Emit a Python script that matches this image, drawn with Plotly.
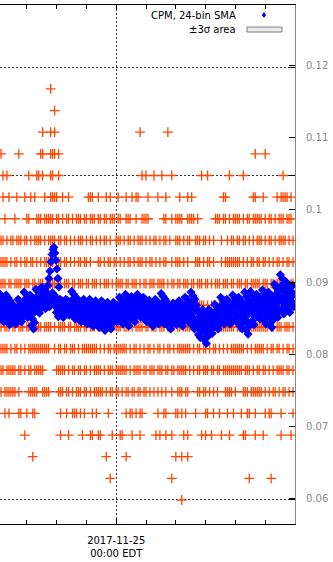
import pandas as pd
import plotly.graph_objects as go

# Time window shown (local time, EDT)
T_START = pd.Timestamp("2017-11-24 20:06")
T_END = pd.Timestamp("2017-11-25 06:00")
MIDNIGHT = pd.Timestamp("2017-11-25 00:00")

# Quantised dose-rate levels of the raw readings (top to bottom)
levels = [0.117, 0.114, 0.111, 0.108, 0.105, 0.102, 0.099, 0.096, 0.093, 0.090,
          0.087, 0.084, 0.081, 0.078, 0.075, 0.072, 0.069, 0.066, 0.063, 0.060]

# Occupancy of each level in 4-minute bins ('#' = reading at that level),
# written in groups of ten bins
D = ".........."
row_masks = [
    " ".join([D, D, ".....#....", D, D, D, D, D, D, D, D, D, D, D, D]),
    " ".join([D, D, ".......#..", D, D, D, D, D, D, D, D, D, D, D, D]),
    " ".join([D, D, ".#...#.#..", D, D, D, D, "#.........", "....#.....", D, D, D, D, D, D]),
    " ".join(["#........#", D, "##...###.#", D, D, D, D, D, D, D, D, D, "........#.", "...#......", D]),
    " ".join([".#.#......", "....#...##", ".#...##..#", D, D, D, D, ".#.#...#..", ".#....#...", D,
              ".#..#.....", ".....#....", "..#.......", D, "..#......."]),
    " ".join([".#..#...#.", "..#..#.#..", "..#..####.", ".#..#.....", "....###..#", "...#.#...#",
              "...#..#.##", "....#....#", "...#......", "#...#.#...", D, "..##......",
              ".......##.", "..#......#", ".####.#..."]),
    " ".join(["..#....#..", "...##...##", "#.#####.##", ".#.##.#.##", "#.##.###.#", "#.##.###.#",
              "#..###..#.", ".####.....", "..##..#.##", "##..####.#", "........##", "#.##.#.###",
              "#.#.##.###", "##.#.##.#.", "###.###..."]),
    " ".join(["##.#.##.##", "#.##.#.###", "#.#.####.#", "#.##.#.#.#", "##.#.##.#.", "#.##.#..##",
              "#.#.##.#.#", "##.#.#.##.", "#.##.#..##", "#.#.##..##", "#.##.#.#..", ".#..#.##.#",
              "#.##.#.#.#", "##.#.##.#.", "####.#.#.."]),
    " ".join(["####.#.##.", "#.##.##.#.", "#.#####.##", "#.##.#.#.#", "#.##.#...#", "#.#.##.##.",
              "#.#.##.#.#", "##.#.##.#.", "#.##..#.##", "#.#.#...##", "#.#.##.#..", ".#.#######",
              "#.#.#.##.#", "#.##.#.#.#", "#.#.##.#.."]),
    " ".join(["###.##.###", "#.###.##.#", "##.#####.#", "#.###.##.#", "##.##.###.", "#.###.#.##",
              "##.##.###.", "#.##.###.#", "###.#.##.#", "#.###.##.#", "##.##.#.##", "#.###.##.#",
              "##.##.####", "#.###.##.#", "#####.##.."]),
    " ".join(["##.###.###", "#.##.####.", "###.##.#.#", "##.###.##.", "#.####.###", "##.##.####",
              "#.###.##.#", "###.##.#.#", "#.###.####", "##.##.##.#", "###.#.###.", "#.####.#.#",
              "##.###.###", "#.##.####.", "###.##.#.."]),
    " ".join(["#.###.##.#", "##.##.####", "#.####.#.#", "###.##.###", "#.##.###.#", "##.####.##",
              "#.###.#.##", "##.##.###.", "###.##.#.#", "#.####.###", "##.###.#.#", "########.#",
              "##.#######", "#####.##.#", "##.###.#.."]),
    " ".join(["####.#.##.", "#.#.######", "#####..#.#", "#.##.###.#", ".########.", "#.#.##.###",
              "####.#.##.", "#.#.##.#.#", "#.#.##.#.#", "######.#.#", "#.##.#.##.", "#.#.#.####",
              "###.#.#.##", "###.#.##.#", "#.#.##.#.."]),
    " ".join(["##.#####.#", "#.#.##.###", "##......##", "###.#.##.#", "#.##.#.###", "#.#.###.##",
              "####.#.###", "#.##.###.#", "##.##.##.#", "####.#.#.#", "#.###.##.#", "#.########",
              "##.###.#.#", "#.##.#.#.#", "###.##.#.."]),
    " ".join(["#.######.#", "....#####.", ".####....#", "##.##.#.##", "#.##.#.###", "##.#.##.##",
              ".#.##.##.#", "#.##.#.#.#", ".#.#..#..#", "##.##....#", "#.##.#.#.#", "...####.#.",
              "..###.####", "##.#.#.##.", "#.##.#.#.."]),
    " ".join(["..#.#....#", "#..#..##..", D, "#..#..###.", "#.#...#.#.", "....#.....",
              "...#.##.#.", "##.......#", "..##....##", ".#.#....#.", "...##..#..", "#...#..#..",
              ".#..##..#.", "...#.##...", ".#.....#.."]),
    " ".join([D, "..#.......", D, "#...#.....", ".#...##..#", "#.....#...", "##....#...",
              "#.......#.", "#..#..#...", "..#.#.....", ".#.#..#...", ".#...#....",
              "..##....#.", "..#.......", ".#....#..."]),
    " ".join([D, "......#...", D, D, D, "...#......", "...#......", D, "........#.", ".#..#.....",
              D, D, D, D, D]),
    " ".join([D, D, D, D, D, ".....#....", D, D, "......#...", D, D, D, ".....#....", "......#...", D]),
    " ".join([D, D, D, D, D, D, D, D, D, ".#........", D, D, D, D, D]),
]

# 24-bin simple moving average, one value per minute (units of 1e-4)
sma_e4 = [
    883, 860, 872, 849, 879, 856, 868, 845, 875, 853, 864, 870,
    882, 857, 870, 845, 878, 853, 866, 841, 874, 849, 862, 868,
    869, 853, 861, 845, 866, 850, 858, 842, 864, 847, 856, 860,
    876, 857, 867, 848, 873, 854, 864, 845, 870, 851, 861, 866,
    886, 865, 876, 855, 883, 862, 872, 851, 879, 858, 869, 874,
    882, 854, 868, 840, 877, 849, 863, 835, 873, 844, 859, 866,
    890, 870, 880, 860, 887, 867, 877, 857, 883, 863, 874, 879,
    893, 875, 884, 866, 890, 872, 881, 863, 887, 869, 878, 882,
    895, 872, 905, 866, 915, 880, 928, 870, 938, 885, 945, 875,
    948, 882, 940, 866, 930, 858, 918, 876, 905, 852, 893, 868,
    876, 861, 869, 854, 874, 859, 866, 851, 871, 856, 864, 868,
    876, 863, 869, 856, 874, 861, 867, 854, 872, 858, 865, 870,
    887, 864, 876, 853, 883, 860, 872, 849, 879, 857, 868, 874,
    876, 857, 867, 848, 873, 854, 864, 845, 870, 851, 861, 866,
    876, 856, 866, 845, 873, 852, 862, 842, 869, 849, 859, 864,
    876, 854, 865, 843, 872, 850, 861, 839, 869, 846, 858, 863,
    874, 852, 863, 841, 870, 848, 859, 837, 867, 844, 856, 861,
    874, 849, 862, 837, 870, 845, 858, 833, 866, 841, 854, 860,
    872, 850, 861, 839, 868, 846, 857, 835, 865, 842, 854, 859,
    872, 856, 864, 848, 869, 853, 861, 845, 867, 850, 859, 863,
    879, 857, 868, 846, 875, 853, 864, 842, 872, 849, 861, 866,
    883, 857, 870, 843, 879, 852, 865, 839, 874, 848, 861, 868,
    880, 859, 870, 849, 877, 856, 866, 845, 873, 852, 863, 868,
    883, 864, 873, 854, 880, 861, 870, 851, 877, 858, 867, 872,
    879, 859, 869, 848, 876, 855, 865, 845, 872, 852, 862, 867,
    875, 853, 864, 843, 871, 850, 861, 839, 868, 846, 857, 862,
    876, 856, 866, 845, 873, 852, 862, 842, 869, 849, 859, 864,
    884, 859, 871, 846, 880, 855, 867, 842, 876, 851, 863, 869,
    872, 850, 861, 839, 868, 846, 857, 835, 865, 842, 854, 859,
    871, 853, 862, 844, 868, 850, 859, 841, 865, 847, 856, 860,
    874, 853, 864, 843, 871, 850, 860, 839, 867, 846, 857, 862,
    879, 859, 869, 848, 876, 855, 865, 845, 872, 852, 862, 867,
    886, 855, 871, 840, 881, 850, 866, 835, 876, 845, 861, 868,
    862, 839, 850, 827, 858, 835, 846, 823, 854, 831, 843, 848,
    862, 834, 848, 820, 857, 829, 843, 815, 853, 824, 839, 846,
    862, 842, 852, 832, 859, 839, 849, 829, 855, 836, 846, 850,
    869, 849, 859, 838, 866, 845, 855, 835, 862, 842, 852, 857,
    879, 857, 868, 846, 875, 853, 864, 842, 872, 849, 861, 866,
    876, 856, 866, 845, 873, 852, 862, 842, 869, 849, 859, 864,
    882, 860, 871, 849, 878, 856, 867, 845, 875, 852, 864, 869,
    879, 853, 866, 839, 875, 848, 861, 835, 870, 844, 857, 863,
    886, 851, 869, 834, 880, 845, 863, 828, 874, 839, 857, 865,
    887, 859, 873, 846, 882, 855, 869, 841, 878, 850, 864, 870,
    883, 863, 873, 852, 880, 859, 869, 849, 876, 856, 866, 871,
    889, 861, 875, 847, 884, 856, 870, 842, 880, 851, 866, 872,
    886, 857, 871, 842, 881, 852, 866, 837, 876, 847, 862, 868,
    897, 869, 883, 856, 892, 865, 879, 851, 888, 860, 874, 880,
    910, 878, 894, 861, 905, 872, 888, 856, 899, 867, 883, 890,
    900, 875, 887, 862, 896, 871, 883, 858, 892, 866, 879, 885,
    895, 872, 884, 866,
]

# Axis ticks: left-axis grid every 0.015, right-axis labels every 0.01
y1_ticks = [0.06, 0.075, 0.09, 0.105, 0.12]
y2_ticks = [0.06, 0.07, 0.08, 0.09, 0.10, 0.11, 0.12]
y2_text = ["0.06", "0.07", "0.08", "0.09", "0.1", "0.11", "0.12"]

ORANGE = "#ff4500"
BLUE = "#0000ff"
FONT = "DejaVu Sans"

# Expand the level masks into (time, value) readings
raw_t, raw_v = [], []
for lvl, mask in zip(levels, row_masks):
    bins = mask.replace(" ", "")
    for i, c in enumerate(bins):
        t = T_START + pd.Timedelta(minutes=2 + 4 * i)
        if c == "#" and t < T_END:
            raw_t.append(t)
            raw_v.append(lvl)

sma_t = [T_START + pd.Timedelta(seconds=30 + 60 * i) for i in range(len(sma_e4))]
sma_v = [v / 1e4 for v in sma_e4]

fig = go.Figure()
fig.add_trace(go.Scatter(
    x=raw_t, y=raw_v, mode="markers", name="CPM",
    marker=dict(symbol="cross-thin", size=7, color=ORANGE,
                line=dict(color=ORANGE, width=1.3)),
    showlegend=False, cliponaxis=True,
))
fig.add_trace(go.Scatter(
    x=sma_t, y=sma_v, mode="markers", name="CPM, 24-bin SMA", yaxis="y2",
    marker=dict(symbol="diamond", size=7, color=BLUE, line=dict(width=0)),
    showlegend=False, cliponaxis=True,
))

# Legend drawn in gnuplot style: text on the left, key on the right
shapes = [
    dict(type="path", xref="paper", yref="paper", xsizemode="pixel", ysizemode="pixel",
         xanchor=264 / 295, yanchor=(524 - 15) / 519,
         path="M 0 3 L 2.2 0 L 0 -3 L -2.2 0 Z", fillcolor=BLUE, line=dict(width=0)),
    dict(type="rect", xref="paper", yref="paper",
         x0=247 / 295, x1=282 / 295, y0=(524 - 32) / 519, y1=(524 - 27) / 519,
         fillcolor="#e8e8e8", line=dict(color="#808080", width=1)),
]
annotations = [
    dict(text="CPM, 24-bin SMA", xref="paper", yref="paper", x=238 / 295, y=(524 - 16) / 519,
         xanchor="right", yanchor="middle", showarrow=False,
         font=dict(family=FONT, size=10, color="black")),
    dict(text="±3σ area", xref="paper", yref="paper", x=238 / 295, y=(524 - 30) / 519,
         xanchor="right", yanchor="middle", showarrow=False,
         font=dict(family=FONT, size=10, color="black")),
]

fig.update_layout(
    width=333, height=562,
    margin=dict(l=0, r=38, t=5, b=38, autoexpand=False),
    paper_bgcolor="white", plot_bgcolor="white",
    font=dict(family=FONT, size=10, color="black"),
    shapes=shapes, annotations=annotations,
    xaxis=dict(
        type="date", range=[T_START, T_END], domain=[0, 1],
        showline=True, linecolor="black", linewidth=1, mirror="ticks",
        ticks="inside", ticklen=6, tickcolor="black", tickwidth=1,
        tickvals=[MIDNIGHT], ticktext=["2017-11-25<br>00:00 EDT"],
        tickfont=dict(family=FONT, size=10, color="black"),
        ticklabelstandoff=7,
        showgrid=True, gridcolor="#333333", gridwidth=1, griddash="2px,2px",
        minor=dict(dtick=3600000, tick0="2017-11-24 21:00", ticks="inside",
                   ticklen=4, tickcolor="black", showgrid=False),
        zeroline=False,
    ),
    yaxis=dict(
        range=[0.05667, 0.12864], side="right",
        tickvals=y1_ticks, showticklabels=False,
        ticks="inside", ticklen=6, tickcolor="black",
        showgrid=True, gridcolor="#333333", gridwidth=1, griddash="2px,2px",
        showline=False, zeroline=False,
    ),
    yaxis2=dict(
        range=[0.05654, 0.12830], side="right", overlaying="y",
        tickvals=y2_ticks, ticktext=y2_text,
        ticks="inside", ticklen=6, tickcolor="black",
        showline=True, linecolor="#888888", linewidth=1,
        tickfont=dict(family=FONT, size=10, color="#888888"),
        ticklabelstandoff=8,
        showgrid=False, zeroline=False,
    ),
)

fig.write_html("out.html")
